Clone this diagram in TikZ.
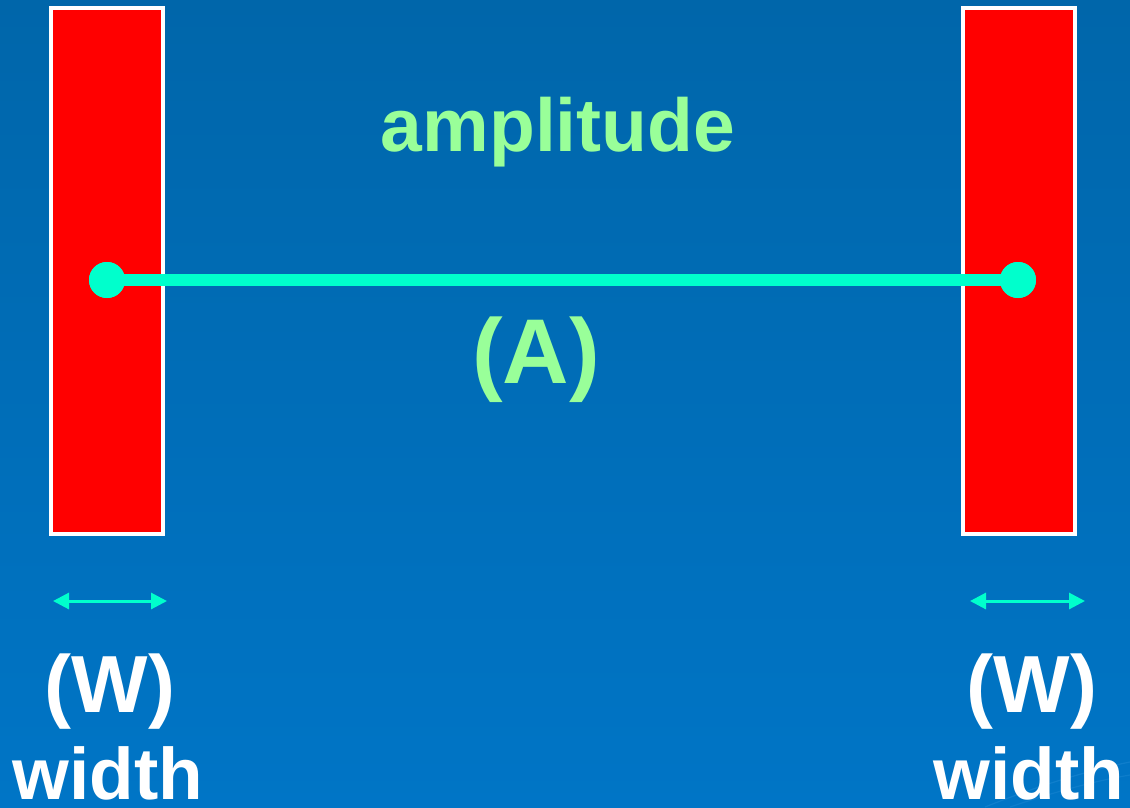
\documentclass[tikz,border=0pt]{standalone}
\usepackage{fontspec}
\setmainfont{Liberation Sans}
\usetikzlibrary{arrows.meta}
\definecolor{bgtop}{HTML}{0066AA}
\definecolor{bgbot}{HTML}{0075C6}
\definecolor{barred}{HTML}{FF0000}
\definecolor{cyanline}{HTML}{00FFCC}
\definecolor{lgreen}{HTML}{99FF99}
\definecolor{swoosh}{HTML}{1A86D2}
\tikzset{
  bar/.style={draw=white, line width=4pt, fill=barred, minimum width=112pt, minimum height=526pt, inner sep=0pt},
  dot/.style={circle, fill=cyanline, minimum size=36pt, inner sep=0pt},
  ampline/.style={cyanline, line width=12pt},
  warrow/.style={cyanline, line width=3pt, {Triangle[length=16pt,width=16pt]}-{Triangle[length=16pt,width=16pt]}},
  greentext/.style={text=lgreen, font=\bfseries, inner sep=0pt, anchor=base},
  whitetext/.style={text=white, font=\bfseries, inner sep=0pt, anchor=base}
}
\begin{document}
\begin{tikzpicture}[x=1pt,y=-1pt]
\useasboundingbox (0,0) rectangle (1130,807);
\shade[top color=bgtop, bottom color=bgbot] (0,0) rectangle (1130,807);
\draw[swoosh, line width=1.2pt, opacity=0.6] (985,807) .. controls (1040,785) and (1090,770) .. (1130,762);
\draw[swoosh, line width=1.2pt, opacity=0.5] (1010,807) .. controls (1060,790) and (1100,780) .. (1130,775);
% bars
\node[bar] (barL) at (107,271) {};
\node[bar] (barR) at (1019,271) {};
% amplitude line
\node[dot] (dotL) at (107,280) {};
\node[dot] (dotR) at (1018,280) {};
\draw[ampline] (dotL.center) -- (dotR.center);
\node[dot] at (dotL) {};
\node[dot] at (dotR) {};
% labels
\node[greentext] (amp) at (558,151) {\fontsize{75}{90}\selectfont amplitude};
\node[greentext] (A) at (536,383) {\fontsize{92}{110}\selectfont (A)};
% width arrows
\coordinate (wL1) at (53,601);
\coordinate (wL2) at (167,601);
\coordinate (wR1) at (970,601);
\coordinate (wR2) at (1085,601);
\draw[warrow] (wL1) -- (wL2);
\draw[warrow] (wR1) -- (wR2);
\node[whitetext] (WL) at (110,712) {\fontsize{81}{97}\selectfont (W)};
\node[whitetext] (WR) at (1032,712) {\fontsize{81}{97}\selectfont (W)};
\node[whitetext] (widthL) at (108,799) {\fontsize{73}{88}\selectfont width};
\node[whitetext] (widthR) at (1029,799) {\fontsize{73}{88}\selectfont width};
\end{tikzpicture}
\end{document}
